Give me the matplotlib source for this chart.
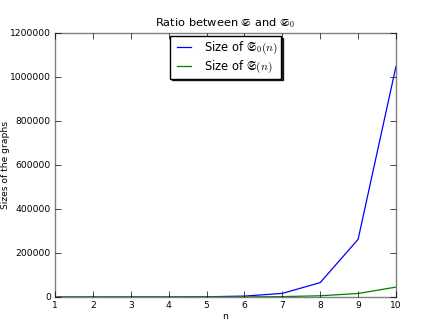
import matplotlib
matplotlib.use('Agg')
import matplotlib.pyplot as plt

plt.style.use('classic')

# valores
n = [1, 2, 3, 4, 5, 6, 7, 8, 9, 10]
size_s0 = [4, 16, 64, 256, 1024, 4096, 16384, 65536, 262144, 1048576]
size_s = [2, 6, 20, 60, 190, 600, 1800, 5500, 16000, 45000]

fig = plt.figure(figsize=(4.4, 3.3), dpi=100)
ax = fig.add_subplot(111)
fig.subplots_adjust(left=0.125, right=0.9, bottom=0.1, top=0.9)

ax.plot(n, size_s0, color='b', lw=0.9, label=r'Size of $\mathfrak{S}_0(n)$')
ax.plot(n, size_s, color='g', lw=0.9, label=r'Size of $\mathfrak{S}(n)$')

ax.set_xlim(1, 10)
ax.set_ylim(0, 1200000)
ax.set_xticks(range(1, 11))
ax.set_yticks(range(0, 1200001, 200000))
ax.tick_params(labelsize=6.6, pad=3)
ax.set_xlabel('n', fontsize=6.6, labelpad=1)
ax.set_ylabel('Sizes of the graphs', fontsize=6.6)
ax.yaxis.set_label_coords(-0.133, 0.5)
ax.set_title(r'Ratio between $\mathfrak{S}$ and $\mathfrak{S}_0$', fontsize=8.2)
for sp in ax.spines.values():
    sp.set_color('#808080')

leg = ax.legend(loc='upper center', fontsize=8.3, fancybox=False,
                shadow={'ox': 1.2, 'oy': -1.2, 'color': 'k', 'alpha': 0.85},
                borderaxespad=0.3, handlelength=1.8, labelspacing=0.25,
                borderpad=0.3)

plt.savefig('out.png', dpi=100)
